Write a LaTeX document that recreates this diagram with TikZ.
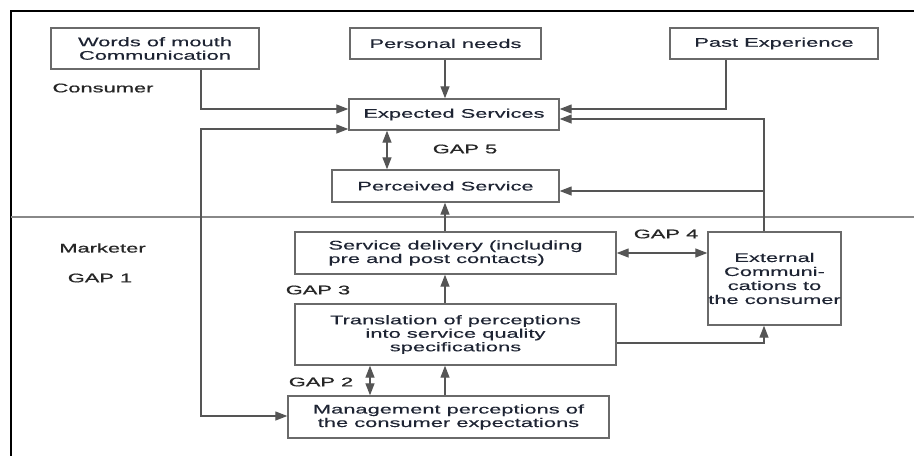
\documentclass[tikz,border=0pt]{standalone}
\usepackage{fontspec}
\setmainfont{Liberation Sans}[FakeStretch=1.75, FakeBold=0.25]
\newfontfamily\lblfont{Liberation Sans}[FakeStretch=1.75, FakeBold=0.9]
\usetikzlibrary{arrows.meta}
\definecolor{boxline}{HTML}{6A6A6A}
\definecolor{conn}{HTML}{555555}
\definecolor{txt}{HTML}{1E2433}
\tikzset{
  box/.style={draw=boxline, line width=1.4pt, rectangle, inner sep=0pt, text=txt,
    font=\fontsize{12.5}{13.5}\selectfont, align=center},
  lbl/.style={inner sep=0pt, text=black!85, font=\lblfont\fontsize{12.5}{13.5}\selectfont},
  conn/.style={draw=conn, line width=1.3pt},
  arr/.style={conn, -{Triangle[length=12pt,width=9pt]}},
  darr/.style={conn, {Triangle[length=12pt,width=9pt]}-{Triangle[length=12pt,width=9pt]}},
}
\begin{document}
\begin{tikzpicture}[x=1pt,y=-1pt]
\useasboundingbox (0,0) rectangle (914,456);
\fill[white] (0,0) rectangle (914,456);
% frame
\draw[black, line width=2.2pt] (914,11) -- (11,11) -- (11,456);
\draw[boxline!80, line width=1.2pt] (11,217) -- (914,217);

% boxes
\node[box, minimum width=208pt, minimum height=41pt] (wom) at (155,48.5) {Words of mouth\\Communication};
\node[box, minimum width=191pt, minimum height=31pt] (pn) at (445.5,43.5) {Personal needs};
\node[box, minimum width=208pt, minimum height=31pt] (pe) at (774,43.5) {Past Experience};
\node[box, minimum width=210pt, minimum height=31pt] (es) at (454,114.5) {Expected Services};
\node[box, minimum width=227pt, minimum height=32pt] (ps) at (445.5,186) {Perceived Service};
\node[box, minimum width=321pt, minimum height=42pt, align=left] (sd) at (455.5,253) {Service delivery (including\\pre and post contacts)};
\node[box, minimum width=321pt, minimum height=61pt] (tr) at (455.5,334.5) {Translation of perceptions\\into service quality\\specifications};
\node[box, minimum width=321pt, minimum height=42pt] (mp) at (448.5,417) {Management perceptions of\\the consumer expectations};
\node[box, minimum width=133pt, minimum height=93pt, font=\fontsize{12.5}{14}\selectfont] (ec) at (774.5,278.5) {External\\Communi-\\cations to\\the consumer};

% labels
\node[lbl] (consumer) at (103,88) {Consumer};
\node[lbl] (marketer) at (102.5,248) {Marketer};
\node[lbl] (gap1) at (100,278) {GAP 1};
\node[lbl] (gap5) at (465,149) {GAP 5};
\node[lbl] (gap4) at (666,234) {GAP 4};
\node[lbl] (gap3) at (318,290) {GAP 3};
\node[lbl] (gap2) at (321,382) {GAP 2};

% connectors
\draw[arr] (wom.south -| 201,0) |- (es.west |- 0,109);
\draw[arr] (pn.south -| 445,0) -- (es.north -| 445,0);
\draw[arr] (pe.south -| 726,0) |- (es.east |- 0,109);
\draw[darr] (es.west |- 0,129) -| (201,272) |- (mp.west |- 0,416);
\draw[darr] (es.south -| 387,0) -- (ps.north -| 387,0);
\draw[arr] (sd.north -| 445,0) -- (ps.south -| 445,0);
\draw[arr] (ec.north -| 764,0) |- (es.east |- 0,119);
\draw[arr] (764,191) -- (ps.east |- 0,191);
\draw[darr] (sd.east |- 0,253) -- (ec.west |- 0,253);
\draw[arr] (tr.north -| 445,0) -- (sd.south -| 445,0);
\draw[arr] (mp.north -| 445,0) -- (tr.south -| 445,0);
\draw[darr] (tr.south -| 370,0) -- (mp.north -| 370,0);
\draw[arr] (tr.east |- 0,343) -| (ec.south -| 764,0);
\end{tikzpicture}
\end{document}
